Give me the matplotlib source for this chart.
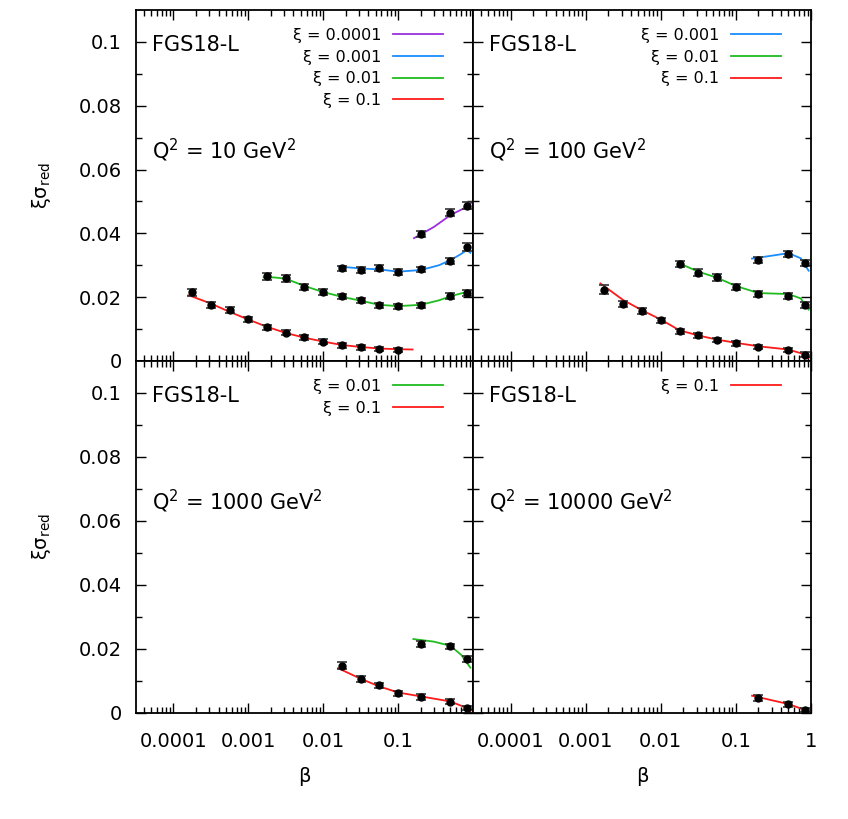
import matplotlib
matplotlib.use("Agg")
import matplotlib.pyplot as plt
from matplotlib.ticker import FixedLocator, LogLocator, NullFormatter

plt.rcParams['font.family'] = ['DejaVu Sans']
plt.rcParams['mathtext.fontset'] = 'dejavusans'

# beta bins of the measured points (quarter decades + 0.2, 0.5, 0.82)
beta_q10_red = [1.78e-4, 3.16e-4, 5.62e-4, 1e-3, 1.78e-3, 3.16e-3, 5.62e-3, 0.01, 0.0178, 0.0316, 0.0562, 0.1]
beta_q10_green = [1.78e-3, 3.16e-3, 5.62e-3, 0.01, 0.0178, 0.0316, 0.0562, 0.1, 0.2, 0.5, 0.82]
beta_q10_blue = [0.0178, 0.0316, 0.0562, 0.1, 0.2, 0.5, 0.82]
beta_q10_purple = [0.2, 0.5, 0.82]
beta_q100_red = [1.78e-3, 3.16e-3, 5.62e-3, 0.01, 0.0178, 0.0316, 0.0562, 0.1, 0.2, 0.5, 0.82]
beta_q100_green = [0.0178, 0.0316, 0.0562, 0.1, 0.2, 0.5, 0.82]
beta_q100_blue = [0.2, 0.5, 0.82]
beta_q1000_red = [0.0178, 0.0316, 0.0562, 0.1, 0.2, 0.5, 0.82]
beta_q1000_green = [0.2, 0.5, 0.82]
beta_q10000_red = [0.2, 0.5, 0.82]

# measured xi*sigma_red and errors
y_q10_red = [0.0215, 0.0175, 0.0159, 0.0131, 0.0105, 0.0089, 0.0074, 0.0060, 0.0049, 0.0043, 0.0038, 0.0035]
e_q10_red = [0.0012, 0.0009, 0.0009, 0.0008, 0.0008, 0.0008, 0.0008, 0.0008, 0.0007, 0.0007, 0.0007, 0.0007]
y_q10_green = [0.0265, 0.0259, 0.0232, 0.0217, 0.0203, 0.0190, 0.0174, 0.0171, 0.0175, 0.0203, 0.0213]
e_q10_green = [0.0010, 0.0010, 0.0009, 0.0009, 0.0008, 0.0008, 0.0008, 0.0008, 0.0008, 0.0009, 0.0010]
y_q10_blue = [0.0290, 0.0286, 0.0291, 0.0278, 0.0287, 0.0314, 0.0358]
e_q10_blue = [0.0009, 0.0009, 0.0009, 0.0009, 0.0009, 0.0010, 0.0012]
y_q10_purple = [0.0398, 0.0465, 0.0487]
e_q10_purple = [0.0009, 0.0011, 0.0010]
y_q100_red = [0.0224, 0.0179, 0.0157, 0.0128, 0.0093, 0.0080, 0.0065, 0.0055, 0.0044, 0.0034, 0.0020]
e_q100_red = [0.0013, 0.0009, 0.0009, 0.0008, 0.0008, 0.0008, 0.0007, 0.0007, 0.0007, 0.0007, 0.0007]
y_q100_green = [0.0304, 0.0277, 0.0262, 0.0233, 0.0211, 0.0204, 0.0176]
e_q100_green = [0.0010, 0.0010, 0.0010, 0.0009, 0.0009, 0.0009, 0.0010]
y_q100_blue = [0.0316, 0.0335, 0.0307]
e_q100_blue = [0.0009, 0.0009, 0.0010]
y_q1000_red = [0.0148, 0.0107, 0.0086, 0.0062, 0.0050, 0.0035, 0.0016]
e_q1000_red = [0.0011, 0.0009, 0.0008, 0.0008, 0.0008, 0.0008, 0.0007]
y_q1000_green = [0.0216, 0.0208, 0.0168]
e_q1000_green = [0.0010, 0.0009, 0.0009]
y_q10000_red = [0.0048, 0.0027, 0.0009]
e_q10000_red = [0.0009, 0.0008, 0.0007]

# FGS18-L curves
cb_q10_red = [1.58e-4, 1.78e-4, 3.16e-4, 5.62e-4, 1e-3, 1.78e-3, 3.16e-3, 5.62e-3, 0.01, 0.0178, 0.0316, 0.0562, 0.1, 0.156]
cy_q10_red = [0.0206, 0.0202, 0.0180, 0.0154, 0.0130, 0.0107, 0.0088, 0.0073, 0.0061, 0.0050, 0.0044, 0.0039, 0.0037, 0.0036]
cb_q10_green = [1.6e-3, 2.2e-3, 3.16e-3, 5.62e-3, 0.01, 0.0178, 0.0316, 0.0562, 0.1, 0.2, 0.35, 0.5, 0.7, 0.94]
cy_q10_green = [0.0262, 0.0262, 0.0258, 0.0235, 0.0216, 0.0201, 0.0189, 0.0176, 0.0172, 0.0176, 0.0190, 0.0203, 0.0212, 0.0220]
cb_q10_blue = [0.0162, 0.0316, 0.0562, 0.1, 0.2, 0.35, 0.5, 0.7, 0.83, 0.92]
cy_q10_blue = [0.0296, 0.0290, 0.0287, 0.0280, 0.0285, 0.0300, 0.0316, 0.0336, 0.0348, 0.0339]
cb_q10_purple = [0.163, 0.3, 0.506, 0.75, 0.957]
cy_q10_purple = [0.0385, 0.0420, 0.0458, 0.0478, 0.0496]
cb_q100_red = [1.57e-3, 3.16e-3, 5.62e-3, 0.01, 0.0178, 0.0316, 0.0562, 0.1, 0.2, 0.5, 0.82, 0.93]
cy_q100_red = [0.0243, 0.0191, 0.0159, 0.0130, 0.0096, 0.0080, 0.0067, 0.0057, 0.0046, 0.0036, 0.0021, 0.0010]
cb_q100_green = [0.0169, 0.0316, 0.0562, 0.1, 0.2, 0.35, 0.5, 0.73, 0.93]
cy_q100_green = [0.0308, 0.0280, 0.0261, 0.0235, 0.0213, 0.0211, 0.0210, 0.0196, 0.0161]
cb_q100_blue = [0.164, 0.3, 0.5, 0.73, 0.93]
cy_q100_blue = [0.0321, 0.0330, 0.0338, 0.0322, 0.0283]
cb_q1000_red = [0.0158, 0.0316, 0.0562, 0.1, 0.2, 0.5, 0.82, 0.92]
cy_q1000_red = [0.0140, 0.0107, 0.0083, 0.0064, 0.0052, 0.0036, 0.0016, 0.0007]
cb_q1000_green = [0.16, 0.3, 0.5, 0.7, 0.92]
cy_q1000_green = [0.0231, 0.0223, 0.0210, 0.0181, 0.0142]
cb_q10000_red = [0.164, 0.5, 0.82, 0.93]
cy_q10000_red = [0.0054, 0.0028, 0.0010, 0.0000]

q2_values = [10, 100, 1000, 10000]
xi_labels = {"purple": "ξ = 0.0001", "blue": "ξ = 0.001", "green": "ξ = 0.01", "red": "ξ = 0.1"}
colors = {"purple": "#9b30dd", "blue": "#1a8cff", "green": "#1fbb1f", "red": "#ff1a1a"}

tick_pos = [1e-4, 1e-3, 1e-2, 1e-1, 1]
tick_lab = ["0.0001", "0.001", "0.01", "0.1", "1"]

# (curve beta, curve y, data beta, data y, err, color) per panel
panels = [
    [(cb_q10_purple, cy_q10_purple, beta_q10_purple, y_q10_purple, e_q10_purple, "purple"),
     (cb_q10_blue, cy_q10_blue, beta_q10_blue, y_q10_blue, e_q10_blue, "blue"),
     (cb_q10_green, cy_q10_green, beta_q10_green, y_q10_green, e_q10_green, "green"),
     (cb_q10_red, cy_q10_red, beta_q10_red, y_q10_red, e_q10_red, "red")],
    [(cb_q100_blue, cy_q100_blue, beta_q100_blue, y_q100_blue, e_q100_blue, "blue"),
     (cb_q100_green, cy_q100_green, beta_q100_green, y_q100_green, e_q100_green, "green"),
     (cb_q100_red, cy_q100_red, beta_q100_red, y_q100_red, e_q100_red, "red")],
    [(cb_q1000_green, cy_q1000_green, beta_q1000_green, y_q1000_green, e_q1000_green, "green"),
     (cb_q1000_red, cy_q1000_red, beta_q1000_red, y_q1000_red, e_q1000_red, "red")],
    [(cb_q10000_red, cy_q10000_red, beta_q10000_red, y_q10000_red, e_q10000_red, "red")],
]

W, H = 848, 819
fig = plt.figure(figsize=(W / 100, H / 100), dpi=100)
xs = [136, 473, 811]
ys = [10, 361, 713]

for i, series in enumerate(panels):
    row, col = divmod(i, 2)
    x0, x1 = xs[col], xs[col + 1]
    y0, y1 = ys[row], ys[row + 1]
    ax = fig.add_axes([x0 / W, 1 - y1 / H, (x1 - x0) / W, (y1 - y0) / H])
    ax.set_xscale("log")
    ax.set_xlim(10 ** -4.5, 1)
    ax.set_ylim(0, 0.11)

    for cb, cy, db, dy, de, c in series:
        ax.plot(cb, cy, color=colors[c], lw=1.3, label=xi_labels[c], zorder=2)
        ax.errorbar(db, dy, yerr=de, fmt="o", color="black", ms=5, capsize=3.5,
                    elinewidth=1, capthick=1.2, ecolor="#333333", zorder=3)

    # ticks
    ax.xaxis.set_major_locator(FixedLocator(tick_pos))
    ax.xaxis.set_minor_locator(LogLocator(base=10, subs=range(2, 10)))
    ax.xaxis.set_minor_formatter(NullFormatter())
    ax.yaxis.set_major_locator(FixedLocator([0, 0.02, 0.04, 0.06, 0.08, 0.1]))
    ax.yaxis.set_minor_locator(FixedLocator([0.01, 0.03, 0.05, 0.07, 0.09]))
    ax.tick_params(which="both", direction="in", top=True, right=True, width=1.0)
    ax.tick_params(which="major", length=7.5, labelsize=14)
    ax.tick_params(which="minor", length=4)
    ax.tick_params(axis="x", pad=14)
    ax.tick_params(axis="y", pad=10)
    for sp in ax.spines.values():
        sp.set_linewidth(1.3)

    if row == 1:
        labs = tick_lab if col == 1 else tick_lab[:-1] + [""]
        ax.set_xticklabels(labs)
        ax.set_xlabel("β", fontsize=14)
        ax.xaxis.set_label_coords(0.5, -0.152)
    else:
        ax.set_xticklabels([])
    if col == 0:
        ax.set_yticklabels(["0", "0.02", "0.04", "0.06", "0.08", "0.1"])
        ax.set_ylabel(r"ξσ$_{\mathregular{red}}$", fontsize=14)
        ax.yaxis.set_label_coords(-0.245, 0.5)
    else:
        ax.set_yticklabels([])

    ax.text(0.047, 0.90, "FGS18-L", transform=ax.transAxes, fontsize=15, va="center")
    ax.text(0.047, 0.60, "Q$^{2}$ = %d GeV$^{2}$" % q2_values[i], transform=ax.transAxes,
            fontsize=15, va="center")

    ax.legend(loc="upper right", bbox_to_anchor=(0.91, 0.949), frameon=False,
              markerfirst=False, fontsize=11.5, handlelength=3.1, handletextpad=0.75,
              labelspacing=0.42, borderaxespad=0, borderpad=0)

fig.savefig("out.png", dpi=100)
